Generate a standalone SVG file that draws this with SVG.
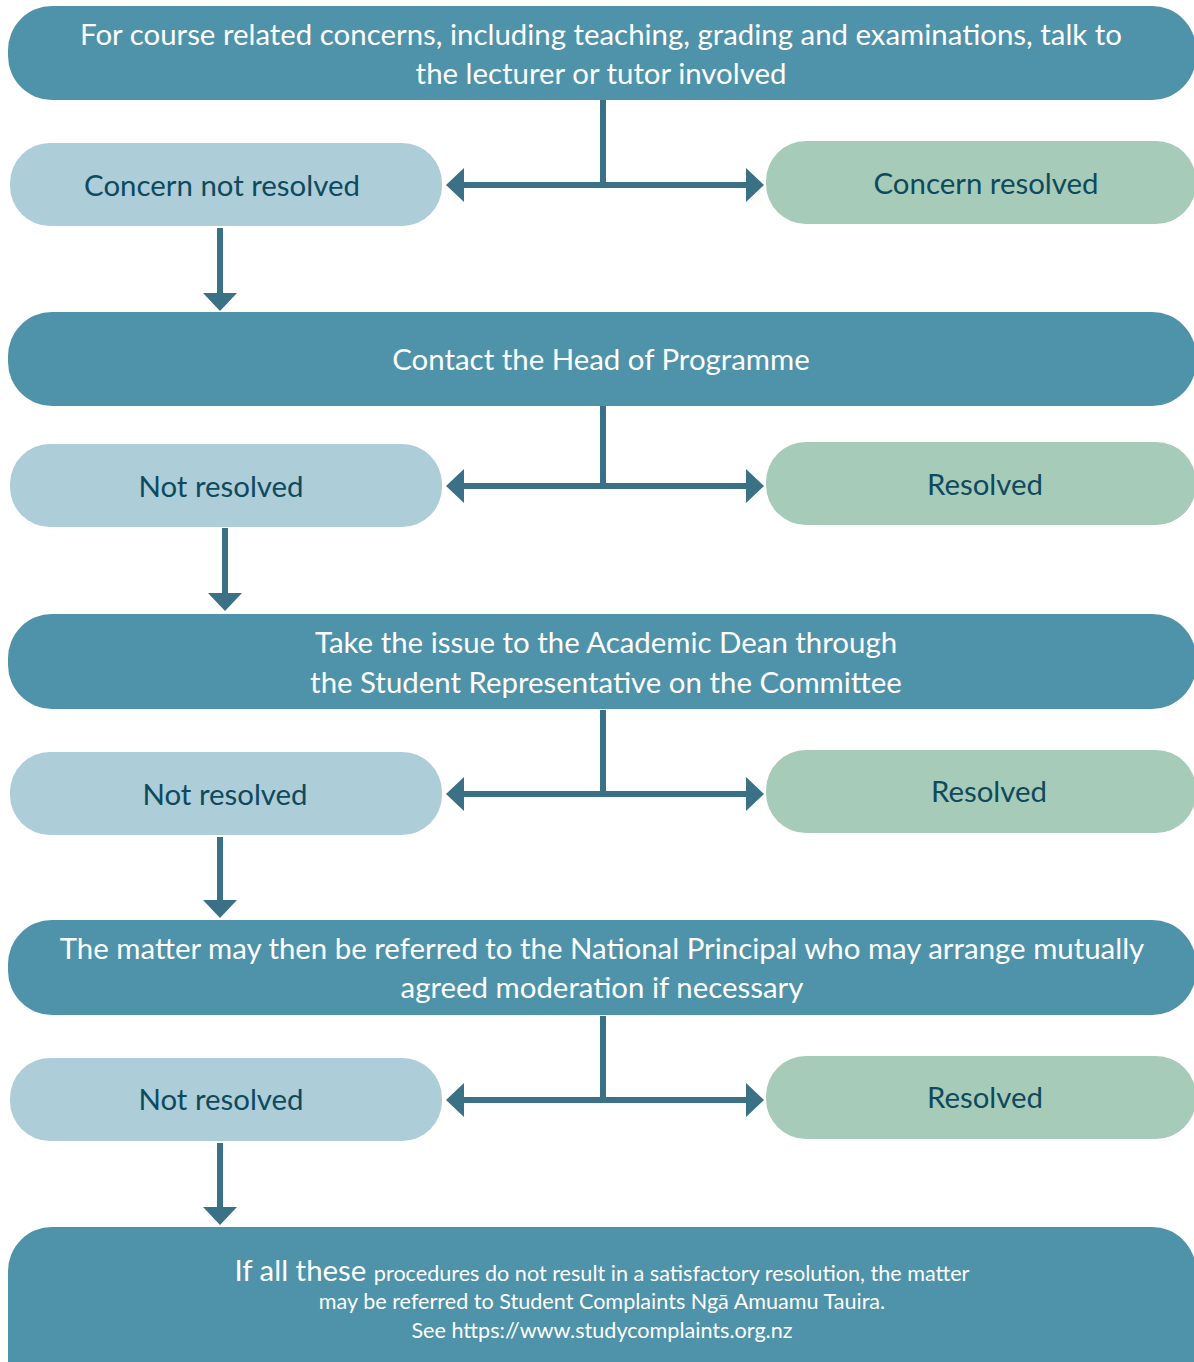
<svg xmlns="http://www.w3.org/2000/svg" width="1194" height="1362" viewBox="0 0 1194 1362">
<defs>
<style>
.main{fill:#4e93a9}
.no{fill:#adcdd9}
.yes{fill:#a7cbb9}
.wt{fill:#ffffff;font-family:Lato,"Open Sans","Liberation Sans",sans-serif;font-size:29.4px;text-anchor:middle}
.dt{fill:#0e4a5c;font-family:Lato,"Open Sans","Liberation Sans",sans-serif;font-size:29.4px;text-anchor:middle}
.sm{font-size:21.6px}
.ln{stroke:#3a7186;stroke-width:6;fill:none}
.hd{fill:#3a7186}
</style>
</defs>
<rect width="1194" height="1362" fill="#ffffff"/>
<g id="connectors">
<path class="ln" d="M603 100 V185 M462 185 H748"/>
<polygon class="hd" points="446,185 464,168 464,202"/>
<polygon class="hd" points="764,185 746,168 746,202"/>
<path class="ln" d="M220 228 V294"/>
<polygon class="hd" points="220,311 203,293 237,293"/>
<path class="ln" d="M603 403 V486 M462 486 H748"/>
<polygon class="hd" points="446,486 464,469 464,503"/>
<polygon class="hd" points="764,486 746,469 746,503"/>
<path class="ln" d="M225 528 V594"/>
<polygon class="hd" points="225,611 208,593 242,593"/>
<path class="ln" d="M603 710 V794 M462 794 H748"/>
<polygon class="hd" points="446,794 464,777 464,811"/>
<polygon class="hd" points="764,794 746,777 746,811"/>
<path class="ln" d="M220 837 V901"/>
<polygon class="hd" points="220,918 203,900 237,900"/>
<path class="ln" d="M603 1016 V1100 M462 1100 H748"/>
<polygon class="hd" points="446,1100 464,1083 464,1117"/>
<polygon class="hd" points="764,1100 746,1083 746,1117"/>
<path class="ln" d="M220 1143 V1208"/>
<polygon class="hd" points="220,1225 203,1207 237,1207"/>
</g>
<g id="n1">
<rect class="main" x="8" y="6" width="1188" height="94" rx="44"/>
<text class="wt" x="601" y="45">For course related concerns, including teaching, grading and examinations, talk to</text>
<text class="wt" x="601" y="84">the lecturer or tutor involved</text>
</g>
<g id="n1no">
<rect class="no" x="10" y="143" width="432" height="83" rx="40"/>
<text class="dt" x="222" y="196">Concern not resolved</text>
</g>
<g id="n1yes">
<rect class="yes" x="766" y="141" width="430" height="83" rx="40"/>
<text class="dt" x="986" y="194">Concern resolved</text>
</g>
<g id="n2">
<rect class="main" x="8" y="312" width="1188" height="94" rx="44"/>
<text class="wt" x="601" y="370">Contact the Head of Programme</text>
</g>
<g id="n2no">
<rect class="no" x="10" y="444" width="432" height="83" rx="40"/>
<text class="dt" x="221" y="497">Not resolved</text>
</g>
<g id="n2yes">
<rect class="yes" x="766" y="442" width="430" height="83" rx="40"/>
<text class="dt" x="985" y="495">Resolved</text>
</g>
<g id="n3">
<rect class="main" x="8" y="614" width="1188" height="95" rx="44"/>
<text class="wt" x="606" y="653">Take the issue to the Academic Dean through</text>
<text class="wt" x="606" y="693">the Student Representative on the Committee</text>
</g>
<g id="n3no">
<rect class="no" x="10" y="752" width="432" height="83" rx="40"/>
<text class="dt" x="225" y="805">Not resolved</text>
</g>
<g id="n3yes">
<rect class="yes" x="766" y="750" width="430" height="83" rx="40"/>
<text class="dt" x="989" y="802">Resolved</text>
</g>
<g id="n4">
<rect class="main" x="8" y="920" width="1188" height="95" rx="44"/>
<text class="wt" x="602" y="959">The matter may then be referred to the National Principal who may arrange mutually</text>
<text class="wt" x="602" y="998">agreed moderation if necessary</text>
</g>
<g id="n4no">
<rect class="no" x="10" y="1058" width="432" height="83" rx="40"/>
<text class="dt" x="221" y="1110">Not resolved</text>
</g>
<g id="n4yes">
<rect class="yes" x="766" y="1056" width="430" height="83" rx="40"/>
<text class="dt" x="985" y="1108">Resolved</text>
</g>
<g id="n5">
<rect class="main" x="8" y="1227" width="1188" height="180" rx="44"/>
<text class="wt" x="602" y="1281">If all these <tspan class="sm">procedures do not result in a satisfactory resolution, the matter</tspan></text>
<text class="wt sm" x="602" y="1309">may be referred to Student Complaints Ngā Amuamu Tauira.</text>
<text class="wt sm" x="602" y="1338">See https://www.studycomplaints.org.nz</text>
</g>
</svg>
